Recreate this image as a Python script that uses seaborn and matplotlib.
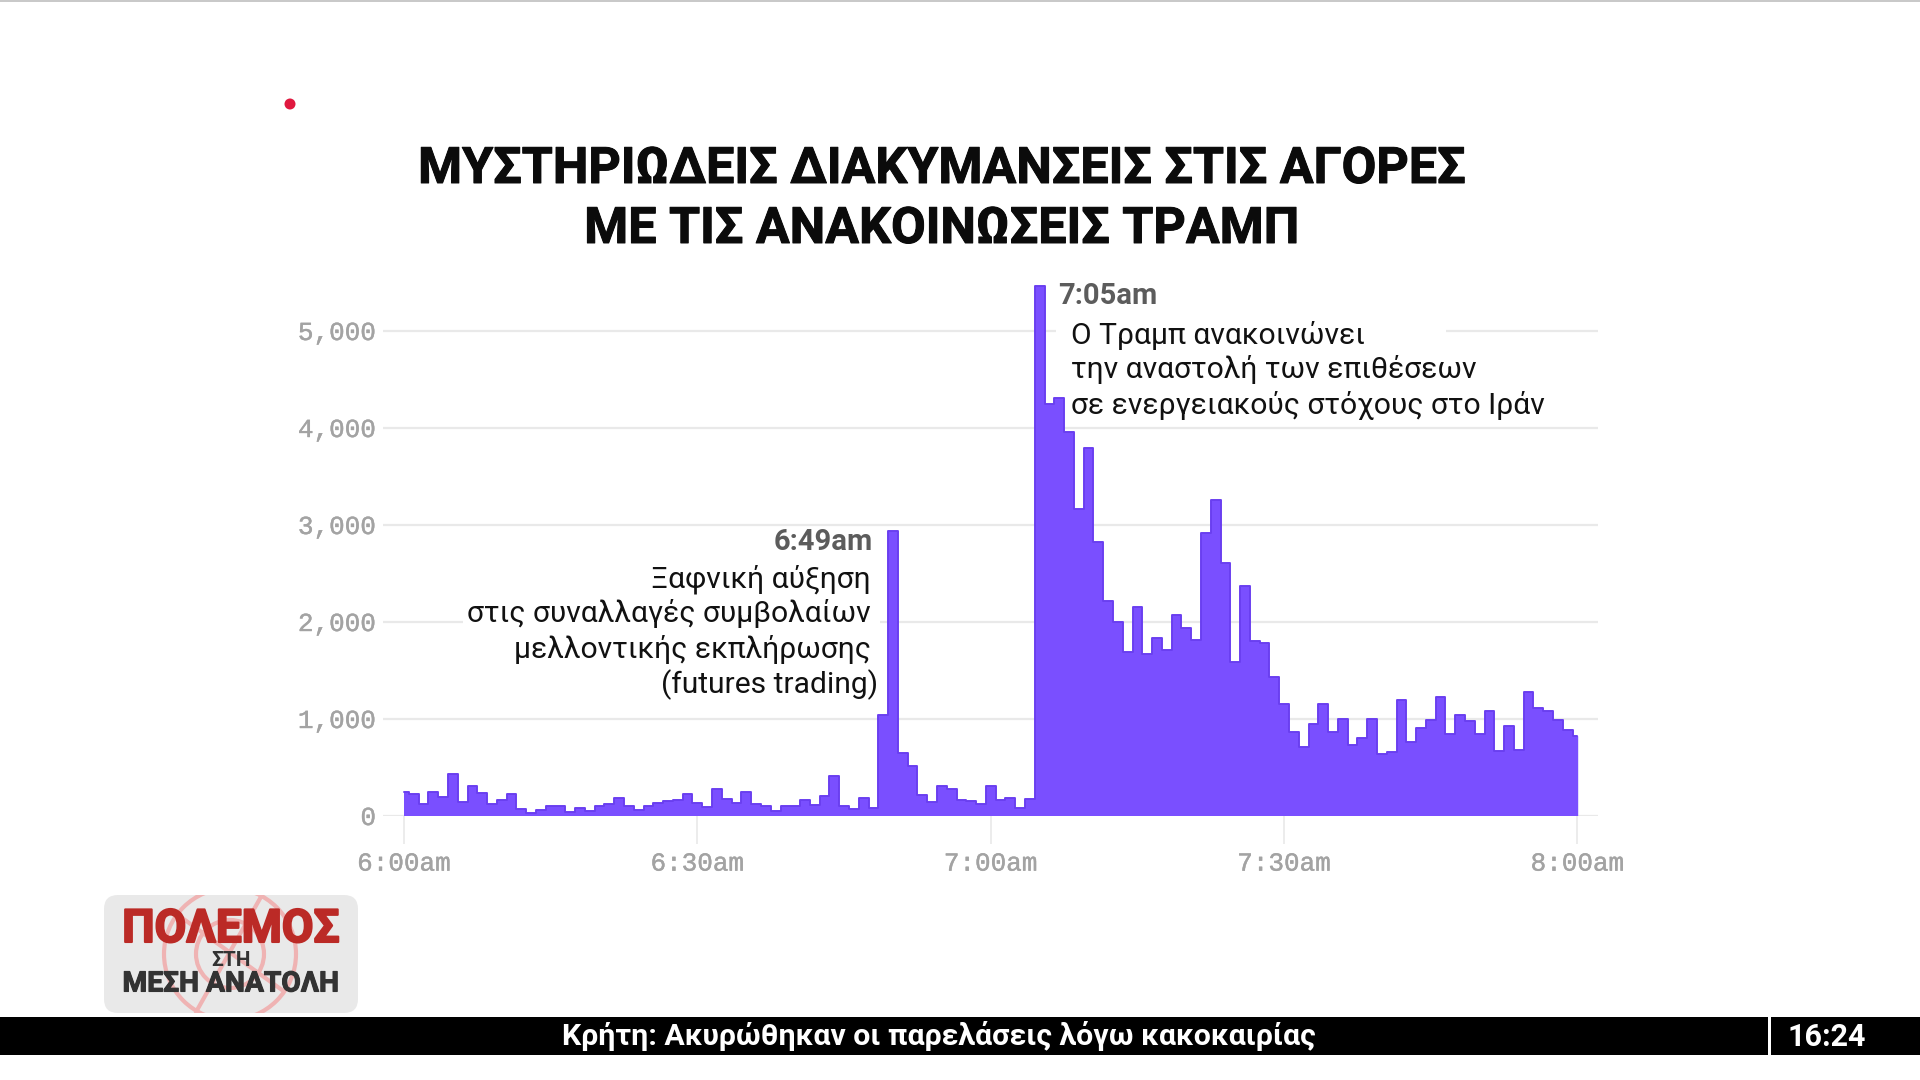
"""Futures volume around the Trump announcements, styled as the TV news graphic."""

import matplotlib

matplotlib.use("Agg", force=True)
import matplotlib.patheffects as pe
import matplotlib.pyplot as plt
import pandas as pd
import seaborn as sns
from matplotlib.patches import Circle, FancyBboxPatch, Rectangle

# contracts per minute, one value for every minute from 6:00am to 8:00am
volume_0600 = [241, 217, 120, 241, 190, 431, 138, 300, 231, 114, 155, 217, 69, 28, 52, 93, 93, 34, 79, 45,
               103, 114, 183, 103, 59, 93, 128, 148, 155, 217]
volume_0630 = [128, 90, 276, 172, 128, 241, 120, 93, 45, 93, 97, 155, 110, 197, 403, 93, 69, 183, 79, 1034,
               2930, 648, 510, 207, 138, 303, 276, 162, 145, 120]
volume_0700 = [303, 162, 179, 74, 173, 5460, 4243, 4300, 3950, 3160, 3790, 2815, 2215, 1990, 1686, 2148, 1668,
               1834, 1708, 2066, 1930, 1808, 2915, 3255, 2600, 1587, 2370, 1800, 1782, 1428]
volume_0730 = [1151, 856, 707, 941, 1148, 862, 1000, 724, 800, 1000, 638, 655, 1190, 759, 907, 983, 1217, 845,
               1034, 976, 838, 1079, 662, 921, 679, 1276, 1110, 1076, 983, 879, 817]
volume = volume_0600 + volume_0630 + volume_0700 + volume_0730
minutes = list(range(len(volume)))

x_ticks = [0, 30, 60, 90, 120]
x_tick_labels = ["6:00am", "6:30am", "7:00am", "7:30am", "8:00am"]
y_ticks = [0, 1000, 2000, 3000, 4000, 5000]

title_lines = ["ΜΥΣΤΗΡΙΩΔΕΙΣ ΔΙΑΚΥΜΑΝΣΕΙΣ ΣΤΙΣ ΑΓΟΡΕΣ", "ΜΕ ΤΙΣ ΑΝΑΚΟΙΝΩΣΕΙΣ ΤΡΑΜΠ"]
note_0705 = ["Ο Τραμπ ανακοινώνει", "την αναστολή των επιθέσεων", "σε ενεργειακούς στόχους στο Ιράν"]
note_0649 = ["Ξαφνική αύξηση", "στις συναλλαγές συμβολαίων", "μελλοντικής εκπλήρωσης"]
ticker_text = "Κρήτη: Ακυρώθηκαν οι παρελάσεις λόγω κακοκαιρίας"

PURPLE = "#7a4fff"
EDGE = "#6a3ff0"
GRID = "#e9e9e9"
TICK_TEXT = "#a3a3a3"
W, H = 1920, 1080

sns.set_theme(style="white")
plt.rcParams["font.family"] = ["Roboto", "DejaVu Sans"]

df = pd.DataFrame({"minute": minutes, "volume": volume})

fig = plt.figure(figsize=(19.2, 10.8), dpi=100, facecolor="white")

# axes placed so that 0 sits at y=815.5px and 6:00 / 8:00 at x=404 / 1577px
ax = fig.add_axes([383 / W, (H - 815.5) / H, (1598 - 383) / W, 533.5 / H])
ax.set_xlim(-2.15, 122.1)
ax.set_ylim(0, 5500)
ax.fill_between(df["minute"], df["volume"], step="mid", color=PURPLE, lw=0, zorder=3)
sns.lineplot(data=df, x="minute", y="volume", drawstyle="steps-mid", color=EDGE, lw=1.4, ax=ax, zorder=4)
ax.plot([120, 120], [0, volume[-1]], color=PURPLE, lw=1, zorder=3)

ax.set_xlabel("")
ax.set_ylabel("")
ax.set_xticks(x_ticks, x_tick_labels)
ax.set_yticks(y_ticks, [f"{v:,}" for v in y_ticks])
ax.grid(axis="y", color=GRID, lw=1.6, zorder=0)
ax.set_axisbelow(True)
ax.tick_params(axis="x", bottom=True, length=20, width=1.2, color=GRID, pad=6, labelsize=18.7, labelcolor=TICK_TEXT)
ax.tick_params(axis="y", left=False, length=0, pad=5, labelsize=18.7, labelcolor=TICK_TEXT)
for label in ax.get_xticklabels() + ax.get_yticklabels():
    label.set_family("Liberation Mono")
    label.set_path_effects([pe.withStroke(linewidth=0.3, foreground=TICK_TEXT)])
sns.despine(ax=ax, left=True, bottom=True)
ax.patch.set_alpha(0)

# pixel overlay for the broadcast furniture and the notes
ov = fig.add_axes([0, 0, 1, 1], zorder=5)
ov.set_xlim(0, W)
ov.set_ylim(H, 0)
ov.axis("off")
ov.patch.set_alpha(0)

ov.add_patch(Rectangle((0, 0), W, 2, color="#c9c9c9", lw=0))
ov.add_patch(Circle((290, 104), 5.5, color="#e0183f", lw=0))

for line, y in zip(title_lines, [169.5, 229.5]):
    t = ov.text(942, y, line, ha="center", va="center", fontsize=36.2, fontweight="bold", color="#0b0b0b")
    t.set_path_effects([pe.withStroke(linewidth=0.7, foreground="#0b0b0b")])

# white masks where the notes interrupt the gridlines
ov.add_patch(Rectangle((1056, 322), 390, 18, color="white", lw=0))
ov.add_patch(Rectangle((463, 612), 417, 18, color="white", lw=0))

ov.text(1058, 296, "7:05am", ha="left", va="center", fontsize=21, fontweight="bold", color="#5c5c5c")
for line, y in zip(note_0705, [335, 370, 405]):
    ov.text(1071, y, line, ha="left", va="center", fontsize=21.6, color="#111111")

ov.text(873, 542, "6:49am", ha="right", va="center", fontsize=21, fontweight="bold", color="#5c5c5c")
for line, y in zip(note_0649, [579, 614, 649]):
    ov.text(871, y, line, ha="right", va="center", fontsize=21.6, color="#111111")
ov.text(878, 685, "(futures trading)", ha="right", va="center", fontsize=21.6, color="#111111")

# war logo, bottom left
logo = FancyBboxPatch((110, 901), 242, 106, boxstyle="round,pad=6,rounding_size=14", fc="#e9e9e9", ec="none")
ov.add_patch(logo)
for r in (66, 34):
    ring = Circle((230, 954), r, fc="none", ec="#efb3b3", lw=3)
    ov.add_patch(ring)
    ring.set_clip_path(logo)
for x0, y0, x1, y1 in [(196, 1012, 262, 895), (178, 915, 282, 990)]:
    spoke, = ov.plot([x0, x1], [y0, y1], color="#efb3b3", lw=3)
    spoke.set_clip_path(logo)
t = ov.text(231, 929, "ΠΟΛΕΜΟΣ", ha="center", va="center", fontsize=33, fontweight="bold", color="#bb2a26")
t.set_path_effects([pe.withStroke(linewidth=1.5, foreground="#bb2a26")])
ov.text(231, 960, "ΣΤΗ", ha="center", va="center", fontsize=15, fontweight="bold", color="#333333")
t = ov.text(231, 984, "ΜΕΣΗ ΑΝΑΤΟΛΗ", ha="center", va="center", fontsize=20.3, fontweight="bold", color="#333333")
t.set_path_effects([pe.withStroke(linewidth=0.8, foreground="#333333")])

# news ticker
ov.add_patch(Rectangle((0, 1017), W, 38, color="black", lw=0))
ov.add_patch(Rectangle((1768, 1017), 3, 38, color="white", lw=0))
ov.text(939, 1036, ticker_text, ha="center", va="center", fontsize=21.8, fontweight="bold", color="white")
ov.text(1827, 1037, "16:24", ha="center", va="center", fontsize=22, fontweight="bold", color="white")

fig.savefig("out.png", dpi=100)
plt.close(fig)
